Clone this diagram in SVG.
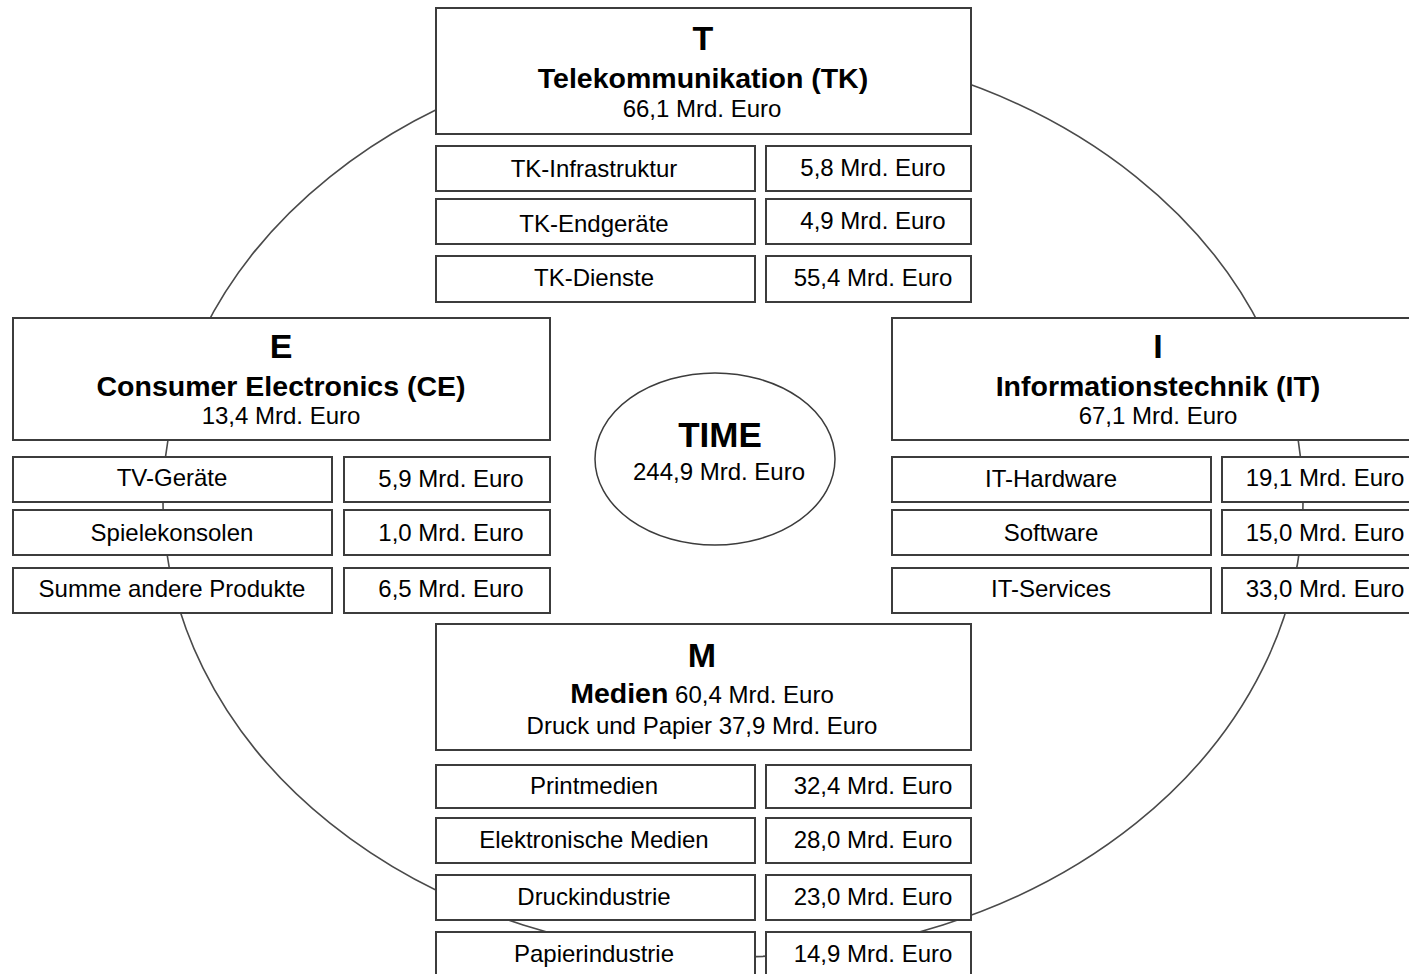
<svg xmlns="http://www.w3.org/2000/svg" width="1409" height="974" viewBox="0 0 1409 974">
<style>
.bg{fill:#ffffff}
.box{fill:#ffffff;stroke:#3c3c3c;stroke-width:2}
.ring{fill:none;stroke:#4a4a4a;stroke-width:1.6}
text{font-family:"Liberation Sans",Arial,sans-serif;fill:#000;text-anchor:middle}
.big{font-size:34px;font-weight:bold}
.hd{font-size:28.5px;font-weight:bold}
.rg{font-size:24px}
.time{font-size:35px;font-weight:bold}
</style>
<rect class="bg" x="0" y="0" width="1409" height="974"/>
<g id="connectors">
<ellipse class="ring" cx="733" cy="500" rx="570" ry="457"/>
</g>
<g id="node-T">
<rect class="box" x="436" y="8" width="535" height="126"/>
<text class="big" x="703" y="50">T</text>
<text class="hd" x="703" y="88">Telekommunikation (TK)</text>
<text class="rg" x="702" y="117">66,1 Mrd. Euro</text>
</g>
<g id="node-T-rows">
<rect class="box" x="436" y="146" width="319" height="45"/>
<text class="rg" x="594" y="177">TK-Infrastruktur</text>
<rect class="box" x="766" y="146" width="205" height="45"/>
<text class="rg" x="873" y="176">5,8 Mrd. Euro</text>
<rect class="box" x="436" y="199" width="319" height="45"/>
<text class="rg" x="594" y="232">TK-Endgeräte</text>
<rect class="box" x="766" y="199" width="205" height="45"/>
<text class="rg" x="873" y="229">4,9 Mrd. Euro</text>
<rect class="box" x="436" y="256" width="319" height="46"/>
<text class="rg" x="594" y="286">TK-Dienste</text>
<rect class="box" x="766" y="256" width="205" height="46"/>
<text class="rg" x="873" y="286">55,4 Mrd. Euro</text>
</g>
<g id="node-E">
<rect class="box" x="13" y="318" width="537" height="122"/>
<text class="big" x="281" y="358">E</text>
<text class="hd" x="281" y="396">Consumer Electronics (CE)</text>
<text class="rg" x="281" y="424">13,4 Mrd. Euro</text>
</g>
<g id="node-E-rows">
<rect class="box" x="13" y="457" width="319" height="45"/>
<text class="rg" x="172" y="486">TV-Geräte</text>
<rect class="box" x="344" y="457" width="206" height="45"/>
<text class="rg" x="451" y="487">5,9 Mrd. Euro</text>
<rect class="box" x="13" y="510" width="319" height="45"/>
<text class="rg" x="172" y="541">Spielekonsolen</text>
<rect class="box" x="344" y="510" width="206" height="45"/>
<text class="rg" x="451" y="541">1,0 Mrd. Euro</text>
<rect class="box" x="13" y="568" width="319" height="45"/>
<text class="rg" x="172" y="597">Summe andere Produkte</text>
<rect class="box" x="344" y="568" width="206" height="45"/>
<text class="rg" x="451" y="597">6,5 Mrd. Euro</text>
</g>
<g id="node-I">
<rect class="box" x="892" y="318" width="537" height="122"/>
<text class="big" x="1158" y="358">I</text>
<text class="hd" x="1158" y="396">Informationstechnik (IT)</text>
<text class="rg" x="1158" y="424">67,1 Mrd. Euro</text>
</g>
<g id="node-I-rows">
<rect class="box" x="892" y="457" width="319" height="45"/>
<text class="rg" x="1051" y="487">IT-Hardware</text>
<rect class="box" x="1222" y="457" width="206" height="45"/>
<text class="rg" x="1325" y="486">19,1 Mrd. Euro</text>
<rect class="box" x="892" y="510" width="319" height="45"/>
<text class="rg" x="1051" y="541">Software</text>
<rect class="box" x="1222" y="510" width="206" height="45"/>
<text class="rg" x="1325" y="541">15,0 Mrd. Euro</text>
<rect class="box" x="892" y="568" width="319" height="45"/>
<text class="rg" x="1051" y="597">IT-Services</text>
<rect class="box" x="1222" y="568" width="206" height="45"/>
<text class="rg" x="1325" y="597">33,0 Mrd. Euro</text>
</g>
<g id="node-TIME">
<ellipse class="box" cx="715" cy="459" rx="120" ry="86" style="stroke-width:1.5"/>
<text class="time" x="720" y="447">TIME</text>
<text class="rg" x="719" y="480">244,9 Mrd. Euro</text>
</g>
<g id="node-M">
<rect class="box" x="436" y="624" width="535" height="126"/>
<text class="big" x="702" y="667">M</text>
<text x="702" y="703"><tspan class="hd">Medien</tspan><tspan class="rg"> 60,4 Mrd. Euro</tspan></text>
<text class="rg" x="702" y="734">Druck und Papier 37,9 Mrd. Euro</text>
</g>
<g id="node-M-rows">
<rect class="box" x="436" y="765" width="319" height="43"/>
<text class="rg" x="594" y="794">Printmedien</text>
<rect class="box" x="766" y="765" width="205" height="43"/>
<text class="rg" x="873" y="794">32,4 Mrd. Euro</text>
<rect class="box" x="436" y="818" width="319" height="45"/>
<text class="rg" x="594" y="848">Elektronische Medien</text>
<rect class="box" x="766" y="818" width="205" height="45"/>
<text class="rg" x="873" y="848">28,0 Mrd. Euro</text>
<rect class="box" x="436" y="875" width="319" height="45"/>
<text class="rg" x="594" y="905">Druckindustrie</text>
<rect class="box" x="766" y="875" width="205" height="45"/>
<text class="rg" x="873" y="905">23,0 Mrd. Euro</text>
<rect class="box" x="436" y="932" width="319" height="46"/>
<text class="rg" x="594" y="962">Papierindustrie</text>
<rect class="box" x="766" y="932" width="205" height="46"/>
<text class="rg" x="873" y="962">14,9 Mrd. Euro</text>
</g>
</svg>
